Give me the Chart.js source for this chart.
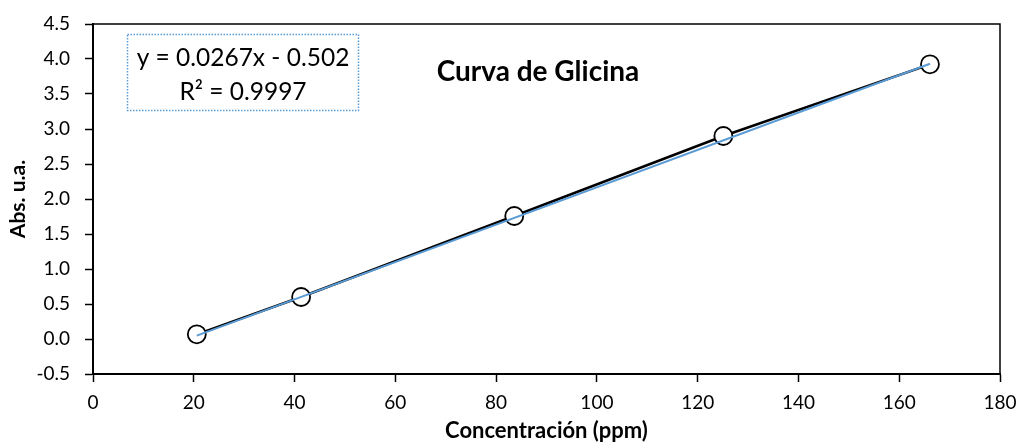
<!DOCTYPE html>
<html>
<head>
<meta charset="utf-8">
<script src="https://cdn.jsdelivr.net/npm/chart.js@4/dist/chart.umd.min.js"></script>
<style>
  html, body { margin: 0; padding: 0; background: #fff; }
  #wrap { width: 1021px; height: 448px; position: relative; }
</style>
</head>
<body>
<div id="wrap"><canvas id="chart"></canvas></div>
<script>
// concentración (ppm) vs absorbancia
const concentracion = [20.6, 41.3, 83.6, 125.1, 166.1]
const absorbancia = [0.067, 0.60, 1.757, 2.90, 3.924]

// ajuste lineal mostrado en la etiqueta
const pendiente = 0.0267
const intercepto = -0.502
const r2 = "0.9997"

const xTicks = [0, 20, 40, 60, 80, 100, 120, 140, 160, 180]
const yTicks = [-0.5, 0, 0.5, 1, 1.5, 2, 2.5, 3, 3.5, 4, 4.5]

const FONT = "Lato, 'Liberation Sans', sans-serif"

const puntos = concentracion.map((x, i) => ({ x, y: absorbancia[i] }))
const xIni = concentracion[0], xFin = concentracion[concentracion.length - 1]
const tendencia = [xIni, xFin].map(x => ({ x, y: pendiente * x + intercepto }))

const fmtEq = () => {
  const b = intercepto < 0 ? " - " + Math.abs(intercepto) : " + " + intercepto
  return "y = " + pendiente + "x" + b
}

// marco superior/derecho, título y cuadro de la ecuación
const extras = {
  id: "extras",
  afterDraw(chart) {
    const { ctx, chartArea: a } = chart
    ctx.save()
    ctx.strokeStyle = "#000"
    ctx.lineWidth = 1.5
    ctx.beginPath()
    ctx.moveTo(a.left, a.top)
    ctx.lineTo(a.right, a.top)
    ctx.lineTo(a.right, a.bottom)
    ctx.stroke()

    ctx.fillStyle = "#000"
    ctx.textAlign = "center"
    ctx.textBaseline = "middle"
    ctx.font = "bold 28px " + FONT
    ctx.fillText("Curva de Glicina", 538, 72)

    // cuadro punteado
    ctx.strokeStyle = "#5B9BD5"
    ctx.lineWidth = 1.5
    ctx.setLineDash([1.5, 1.5])
    ctx.strokeRect(127.5, 34.5, 231, 76)
    ctx.setLineDash([])
    ctx.font = "24.5px " + FONT
    ctx.fillText(fmtEq(), 243, 58)
    ctx.fillText("R² = " + r2, 243, 92)
    ctx.restore()
  }
}

new Chart(document.getElementById("chart"), {
  type: "scatter",
  data: {
    datasets: [
      {
        label: "Lineal",
        data: tendencia,
        showLine: true,
        borderColor: "#5B9BD5",
        borderWidth: 2,
        pointRadius: 0,
        order: 0
      },
      {
        label: "Glicina",
        data: puntos,
        showLine: true,
        borderColor: "#000",
        borderWidth: 2.5,
        pointRadius: 9,
        pointBorderWidth: 1.8,
        pointBorderColor: "#000",
        pointBackgroundColor: "#fff",
        order: 1
      }
    ]
  },
  options: {
    responsive: true, maintainAspectRatio: false, animation: false,
    layout: { padding: { left: 0, right: 21, top: 24, bottom: 4 } },
    plugins: { legend: { display: false }, tooltip: { enabled: false } },
    scales: {
      x: {
        type: "linear", min: 0, max: 180,
        afterBuildTicks: s => { s.ticks = xTicks.map(v => ({ value: v })) },
        afterFit: s => { s.height = 70; s.paddingLeft = 0; s.paddingRight = 0 },
        grid: { display: true, drawOnChartArea: false, tickLength: 8, color: "#000", tickWidth: 1.5 },
        border: { color: "#000", width: 2 },
        ticks: { color: "#000", font: { family: FONT, size: 19 }, padding: 9, maxRotation: 0 },
        title: { display: true, text: "Concentración (ppm)", color: "#000", font: { family: FONT, size: 22, weight: "bold" }, padding: { top: 0, bottom: 0 } }
      },
      y: {
        type: "linear", min: -0.5, max: 4.5,
        afterBuildTicks: s => { s.ticks = yTicks.map(v => ({ value: v })) },
        afterFit: s => { s.width = 93; s.paddingTop = 0; s.paddingBottom = 0 },
        grid: { display: true, drawOnChartArea: false, tickLength: 8, color: "#000", tickWidth: 1.5 },
        border: { color: "#000", width: 2 },
        ticks: { color: "#000", font: { family: FONT, size: 19 }, padding: 15, callback: v => v.toFixed(1) },
        title: { display: true, text: "Abs. u.a.", color: "#000", font: { family: FONT, size: 21, weight: "bold" }, padding: { top: 6, bottom: 0 } }
      }
    }
  },
  plugins: [extras]
})
</script>
</body>
</html>
